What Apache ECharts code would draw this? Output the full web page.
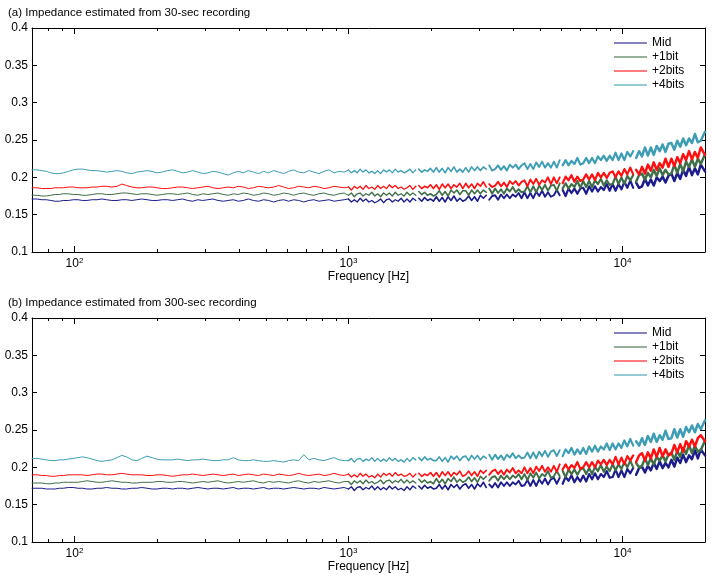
<!DOCTYPE html>
<html><head><meta charset="utf-8">
<script src="https://cdn.jsdelivr.net/npm/echarts@6/dist/echarts.min.js"></script>
<style>html,body{margin:0;padding:0;background:#fff}#c{width:712px;height:581px}</style>
</head><body><div id="c"></div>
<script>
// ---------- data ----------
const freqHz = [
70,73,76,79,82,85,88,91,95,99,103,107,111,116,121,126,131,137,143,149,
155,162,169,176,184,192,200,209,218,228,238,248,259,270,282,294,307,320,334,349,
364,380,396,413,431,450,470,490,511,533,556,580,605,631,658,687,717,748,780,814,
849,886,924,964,
1000,1025,1050,1076,1103,1130,1158,1187,1217,1247,
1278,1310,1343,1376,1410,1445,1481,1518,1556,1595,
1635,1676,1718,1761,1805,1850,1896,1943,1991,2041,
2092,2144,2198,2253,2309,2367,2426,2487,2549,2613,
2678,2745,2814,2884,2956,3030,3106,3184,3263,3345,
3428,3514,3602,3692,3784,3879,3976,4075,4177,4281,
4388,4498,4610,4725,4843,4964,5088,5215,5346,5479,
5616,5757,5900,6048,6199,6354,6513,6676,6843,7014,
7189,7369,7553,7742,7936,8134,8337,8546,8759,8978,
9203,9433,9669,9911,10158,10412,10673,10939,11213,11493,
11780,12075,12377,12686,13003,13328,13662,14003,14353,14712,
15080,15457,15843,16239,16645,17061,17488,17925,18373,18833,
19304,20000];

const seriesNames = ['Mid', '+1bit', '+2bits', '+4bits'];
const panelTitles = ['(a) Impedance estimated from 30-sec recording', '(b) Impedance estimated from 300-sec recording'];
const axisTitle = 'Frequency [Hz]';
const yTickStep = 0.05, yMin = 0.1, yMax = 0.4;
const minorTickHz = [80,90,200,300,400,500,600,700,800,900,2000,3000,4000,5000,6000,7000,8000,9000];
// frequency ranges where the dense noisy estimate is drawn progressively thicker
const bandEdgesHz = [1000, 1800, 3200, 6000, 11000];

// impedance values in units of 0.001
const mid30 = [
171,171,170,170,169,168,168,169,169,170,170,169,169,170,170,171,170,169,169,170,
170,169,170,171,170,169,169,170,170,169,170,171,169,168,170,169,170,171,169,168,
169,170,168,169,171,169,168,170,169,167,169,170,168,170,169,167,169,170,168,169,
170,168,169,170,
171,167,170,167,172,168,171,167,169,166,
168,171,166,170,171,167,170,168,172,167,
171,167,172,169,172,168,173,169,171,168,
174,168,173,167,174,169,175,168,172,168,
170,175,169,174,168,176,172,176,170,175,
176,170,177,172,177,172,177,174,179,172,
180,172,179,172,181,175,182,174,180,174,
176,183,176,183,175,185,179,185,178,185,
186,178,188,181,188,181,187,183,191,182,
191,182,191,184,194,186,196,186,193,186,
188,198,189,197,189,200,195,201,193,202,
205,195,206,198,210,202,214,203,212,204,
217,208];
const bit1_30 = [
176,176,175,175,176,177,177,178,178,177,177,176,176,177,178,178,177,177,178,179,
179,178,177,178,178,177,176,177,178,178,177,178,179,177,176,178,177,178,179,177,
176,178,177,179,178,176,177,179,178,176,177,179,178,176,178,179,177,176,178,179,
177,176,178,179,
176,179,174,178,179,175,178,176,180,175,
178,174,179,176,179,175,180,176,178,175,
180,176,179,176,181,177,180,176,178,175,
177,182,176,181,175,183,179,183,177,182,
182,176,183,178,183,178,183,180,185,178,
185,179,184,178,185,181,187,180,184,180,
181,188,180,188,180,189,183,190,182,189,
190,182,192,185,192,185,191,187,195,186,
195,187,195,187,196,191,198,189,196,190,
191,201,191,200,191,202,196,203,194,203,
205,197,206,200,210,202,212,203,210,204,
205,217,206,218,208,221,214,224,214,225,
218,231];
const bit2_30 = [
186,186,185,185,185,186,186,186,187,187,186,186,186,187,187,188,188,187,188,191,
189,187,186,186,187,187,186,185,185,186,187,187,186,185,186,187,188,186,185,186,
187,186,188,187,185,186,188,187,186,187,189,187,185,186,188,187,186,188,187,185,
186,188,187,186,
187,183,188,185,188,184,189,185,187,184,
189,185,188,185,190,186,189,185,187,184,
186,189,184,188,189,185,188,186,190,185,
190,184,191,186,191,185,190,187,192,185,
192,186,191,185,192,188,194,187,191,187,
189,194,188,193,187,195,191,195,189,194,
196,188,197,191,198,190,196,193,200,191,
200,192,200,192,201,196,203,194,201,195,
197,204,197,204,196,206,200,206,199,206,
208,200,208,202,211,204,213,204,210,204,
214,205,217,209,220,210,219,213,225,214,
225,215,227,219,231,223,235,224,234,226,
240,230];
const bit4_30 = [
210,210,209,208,206,205,205,206,208,210,211,211,210,209,209,208,207,208,209,208,
206,205,207,208,209,208,206,207,209,210,208,206,207,209,207,205,206,208,207,205,
203,206,208,206,209,207,205,208,206,209,207,205,208,210,207,206,209,207,205,208,
210,206,208,207,
210,206,209,206,211,207,210,206,208,205,
209,205,210,207,210,206,211,207,209,206,
208,211,206,210,211,207,210,208,212,207,
213,207,212,206,213,208,214,207,211,207,
213,207,214,209,214,209,214,211,216,209,
211,216,210,215,209,217,213,217,211,216,
219,211,218,211,220,214,221,213,219,213,
221,213,223,216,223,216,222,218,226,217,
219,226,219,226,219,228,223,229,222,229,
223,233,223,232,223,234,228,235,226,235,
228,240,229,240,230,242,235,244,234,245,
246,237,249,241,252,243,252,246,258,247,
249,261];

const mid300 = [
172,172,172,171,171,171,172,172,173,173,172,172,171,171,172,172,173,172,172,171,
171,172,172,173,172,171,171,172,172,171,172,172,171,172,173,172,171,172,172,171,
172,173,171,172,172,171,172,173,171,172,172,171,172,173,172,171,172,172,171,173,
172,171,172,173,
171,174,169,173,174,170,173,171,175,170,
174,170,173,170,175,171,174,170,172,169,
174,170,175,172,175,171,176,172,174,171,
172,177,171,176,170,177,173,177,171,176,
178,172,177,171,178,174,180,173,177,173,
179,173,180,175,180,175,180,177,182,175,
176,183,175,183,175,184,178,185,177,184,
186,178,186,178,187,182,189,180,187,181,
189,181,191,184,192,184,191,187,195,186,
187,197,187,196,187,198,192,199,190,199,
201,193,202,196,206,198,208,199,206,200,
210,201,213,206,217,207,216,211,223,212,
224,216];
const bit1_300 = [
179,179,179,178,178,179,179,180,180,180,180,181,182,181,180,180,181,182,181,180,
180,179,179,180,180,180,181,181,180,180,181,181,180,179,180,181,180,181,182,180,
179,180,181,180,181,182,180,179,181,180,181,180,179,181,182,180,179,181,180,181,
182,180,179,181,
181,177,182,179,182,178,183,179,181,178,
180,183,178,182,183,179,182,180,184,179,
183,179,182,179,184,180,183,179,181,178,
185,179,184,178,185,181,187,180,184,180,
182,187,181,186,180,188,184,188,182,187,
188,182,189,184,189,184,189,186,191,184,
191,183,192,186,193,185,191,188,195,186,
188,195,188,195,187,197,191,197,190,197,
199,191,199,191,201,195,203,194,201,195,
204,196,204,198,207,200,209,200,206,200,
202,212,203,212,204,214,209,216,208,217,
220,210,222,214,226,218,230,219,229,221,
223,236];
const bit2_300 = [
190,190,189,189,188,188,189,189,190,190,190,190,189,190,191,191,190,190,191,192,
191,190,190,190,189,189,190,190,189,188,189,190,190,191,190,189,190,191,190,189,
190,191,189,190,191,190,189,191,190,189,191,190,189,190,192,190,189,190,191,189,
190,192,190,189,
191,187,190,187,192,188,191,187,189,186,
191,187,192,189,192,188,193,189,191,188,
189,192,187,191,192,188,191,189,193,188,
193,187,194,189,194,188,193,190,195,188,
190,195,189,194,188,196,192,196,190,195,
197,191,196,190,197,193,199,192,196,192,
200,192,199,192,201,195,202,194,200,194,
202,194,204,197,204,197,203,199,207,198,
200,207,200,207,200,209,204,210,203,210,
204,214,204,213,204,215,209,216,207,216,
219,209,220,212,224,214,226,215,224,216,
218,230,220,231,221,235,228,237,228,239,
243,235];
const bit4_300 = [
212,212,211,210,209,209,210,210,211,212,213,214,213,211,209,208,209,210,213,216,
214,210,209,212,215,213,211,210,210,210,211,210,209,210,210,211,210,209,209,210,
210,213,210,209,209,210,209,208,208,209,208,207,209,210,209,217,210,212,210,209,
211,213,210,209,
209,212,207,211,212,208,211,209,213,208,
212,208,211,208,213,209,212,208,210,207,
212,208,213,210,213,209,214,210,212,209,
209,214,208,213,207,215,211,215,209,214,
215,209,216,211,216,210,215,212,217,210,
217,211,216,210,217,213,219,212,216,212,
213,220,212,220,212,221,215,222,214,221,
223,215,223,215,224,219,226,217,224,218,
226,218,228,221,229,221,228,224,232,223,
232,224,232,226,236,228,238,229,235,229,
239,230,242,234,245,234,243,237,249,238,
239,251,240,251,241,254,247,256,247,258,
251,263];

// ---------- styling ----------
const FONT = '"Liberation Sans", Arial, Helvetica, sans-serif';
const colors = ['#1c1c8c', '#3f6f48', '#ff1010', '#3c9db5'];
const segWidths = [1, 1.3, 1.6, 1.9, 2.2, 2.5];
const gridTops = [28, 318];
const GRID_LEFT = 32, GRID_W = 673, GRID_H = 224;

const panels = [
  { title: panelTitles[0], values: [mid30, bit1_30, bit2_30, bit4_30] },
  { title: panelTitles[1], values: [mid300, bit1_300, bit2_300, bit4_300] }
];

const LMIN = Math.log10(freqHz[0]), LMAX = Math.log10(freqHz[freqHz.length - 1]);
const minorTickLog = minorTickHz.map(Math.log10);
const black = '#000';
const segBounds = [freqHz[0]].concat(bandEdgesHz, [freqHz[freqHz.length - 1]]);

function decadeLabel(v) {
  const e = Math.log10(v), r = Math.round(e);
  return Math.abs(e - r) < 1e-6 ? '10{sup|' + r + '}' : '';
}

const grid = [], xAxis = [], yAxis = [], series = [], title = [], legend = [];
panels.forEach((p, g) => {
  grid.push({ left: GRID_LEFT, top: gridTops[g], width: GRID_W, height: GRID_H, containLabel: false, outerBoundsMode: 'none' });
  const common = { gridIndex: g, splitLine: { show: false }, axisLine: { onZero: false, lineStyle: { color: black, width: 1 } } };
  xAxis.push(Object.assign({}, common, {
    type: 'log', logBase: 10, position: 'bottom', min: freqHz[0], max: freqHz[freqHz.length - 1],
    name: axisTitle, nameLocation: 'middle', nameGap: 17,
    nameTextStyle: { color: black, fontSize: 12, fontFamily: FONT },
    axisTick: { inside: true, length: 6, lineStyle: { color: black } },
    minorTick: { show: false },
    axisLabel: { color: black, fontSize: 12, fontFamily: FONT, margin: 5, showMinLabel: false, showMaxLabel: false,
      formatter: decadeLabel,
      rich: { sup: { fontSize: 8, fontFamily: FONT, color: black, verticalAlign: 'top', padding: [0, 0, 5, 0] } } }
  }));
  xAxis.push(Object.assign({}, common, {
    type: 'log', logBase: 10, position: 'top', min: freqHz[0], max: freqHz[freqHz.length - 1],
    axisTick: { inside: true, length: 6, lineStyle: { color: black } },
    axisLabel: { show: false }, minorTick: { show: false }
  }));
  ['bottom', 'top'].forEach(pos => xAxis.push({
    type: 'value', gridIndex: g, position: pos, min: LMIN, max: LMAX,
    axisLine: { show: false, onZero: false }, splitLine: { show: false }, axisLabel: { show: false },
    axisTick: { show: true, inside: true, length: 3, customValues: minorTickLog, lineStyle: { color: black } }
  }));
  yAxis.push({
    type: 'value', gridIndex: g, position: 'left', min: yMin, max: yMax, interval: yTickStep,
    splitLine: { show: false }, axisLine: { show: true, onZero: false, lineStyle: { color: black } },
    axisTick: { inside: true, length: 5, lineStyle: { color: black } },
    axisLabel: { color: black, fontSize: 12, fontFamily: FONT, margin: 4 }
  });
  yAxis.push({
    type: 'value', gridIndex: g, position: 'right', min: yMin, max: yMax, interval: yTickStep,
    splitLine: { show: false }, axisLine: { show: true, onZero: false, lineStyle: { color: black } },
    axisTick: { inside: true, length: 5, lineStyle: { color: black } },
    axisLabel: { show: false }
  });
  title.push({ text: p.title, left: 8, top: gridTops[g] - 21, padding: 0,
    textStyle: { fontSize: 11.5, fontWeight: 'normal', color: black, fontFamily: FONT } });
  legend.push({ data: seriesNames, orient: 'vertical', left: 614, top: gridTops[g] + 9,
    icon: 'rect', itemWidth: 33, itemHeight: 2, itemGap: 2, padding: 0,
    itemStyle: { opacity: 0.55 },
    textStyle: { fontSize: 12, color: black, fontFamily: FONT } });
  p.values.forEach((vals, k) => {
    const pts = freqHz.map((f, i) => [f, vals[i] / 1000]);
    for (let s = 0; s < segBounds.length - 1; s++) {
      series.push({
        name: seriesNames[k], type: 'line', xAxisIndex: g * 4, yAxisIndex: g * 2,
        data: pts.filter(d => d[0] >= segBounds[s] && d[0] <= segBounds[s + 1]),
        symbol: 'none', showSymbol: false, silent: true, z: 2 + k,
        lineStyle: { width: segWidths[s], color: colors[k], join: 'round', cap: 'round' }, itemStyle: { color: colors[k] }
      });
    }
  });
});

const chart = echarts.init(document.getElementById('c'), null, { renderer: 'canvas' });
chart.setOption({ animation: false, backgroundColor: '#fff', title, legend, grid, xAxis, yAxis, series });
</script>
</body></html>
